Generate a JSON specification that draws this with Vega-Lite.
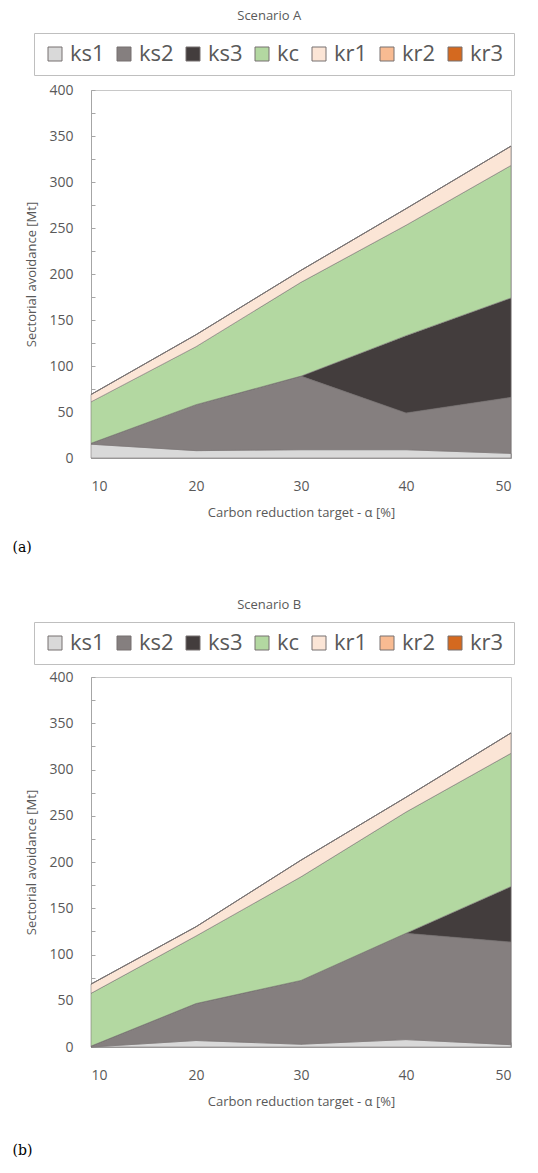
{
  "$schema": "https://vega.github.io/schema/vega-lite/v6.json",
  "background": "white",
  "padding": {"left": 12, "top": 9, "right": 5, "bottom": 5},
  "datasets": {
    "avoidance": [
      {"scenario": "A", "alpha": 10, "sector": "ks1", "value": 15},
      {"scenario": "A", "alpha": 10, "sector": "ks2", "value": 1},
      {"scenario": "A", "alpha": 10, "sector": "ks3", "value": 0},
      {"scenario": "A", "alpha": 10, "sector": "kc", "value": 45},
      {"scenario": "A", "alpha": 10, "sector": "kr1", "value": 8},
      {"scenario": "A", "alpha": 10, "sector": "kr2", "value": 0},
      {"scenario": "A", "alpha": 10, "sector": "kr3", "value": 0},
      {"scenario": "A", "alpha": 20, "sector": "ks1", "value": 8},
      {"scenario": "A", "alpha": 20, "sector": "ks2", "value": 50},
      {"scenario": "A", "alpha": 20, "sector": "ks3", "value": 0},
      {"scenario": "A", "alpha": 20, "sector": "kc", "value": 63},
      {"scenario": "A", "alpha": 20, "sector": "kr1", "value": 13},
      {"scenario": "A", "alpha": 20, "sector": "kr2", "value": 0},
      {"scenario": "A", "alpha": 20, "sector": "kr3", "value": 0},
      {"scenario": "A", "alpha": 30, "sector": "ks1", "value": 9},
      {"scenario": "A", "alpha": 30, "sector": "ks2", "value": 80},
      {"scenario": "A", "alpha": 30, "sector": "ks3", "value": 0},
      {"scenario": "A", "alpha": 30, "sector": "kc", "value": 102},
      {"scenario": "A", "alpha": 30, "sector": "kr1", "value": 13},
      {"scenario": "A", "alpha": 30, "sector": "kr2", "value": 0},
      {"scenario": "A", "alpha": 30, "sector": "kr3", "value": 0},
      {"scenario": "A", "alpha": 40, "sector": "ks1", "value": 9},
      {"scenario": "A", "alpha": 40, "sector": "ks2", "value": 40},
      {"scenario": "A", "alpha": 40, "sector": "ks3", "value": 84},
      {"scenario": "A", "alpha": 40, "sector": "kc", "value": 120},
      {"scenario": "A", "alpha": 40, "sector": "kr1", "value": 18},
      {"scenario": "A", "alpha": 40, "sector": "kr2", "value": 0},
      {"scenario": "A", "alpha": 40, "sector": "kr3", "value": 0},
      {"scenario": "A", "alpha": 50, "sector": "ks1", "value": 5},
      {"scenario": "A", "alpha": 50, "sector": "ks2", "value": 61},
      {"scenario": "A", "alpha": 50, "sector": "ks3", "value": 108},
      {"scenario": "A", "alpha": 50, "sector": "kc", "value": 144},
      {"scenario": "A", "alpha": 50, "sector": "kr1", "value": 21},
      {"scenario": "A", "alpha": 50, "sector": "kr2", "value": 0},
      {"scenario": "A", "alpha": 50, "sector": "kr3", "value": 0},
      {"scenario": "B", "alpha": 10, "sector": "ks1", "value": 0},
      {"scenario": "B", "alpha": 10, "sector": "ks2", "value": 1},
      {"scenario": "B", "alpha": 10, "sector": "ks3", "value": 0},
      {"scenario": "B", "alpha": 10, "sector": "kc", "value": 57},
      {"scenario": "B", "alpha": 10, "sector": "kr1", "value": 10},
      {"scenario": "B", "alpha": 10, "sector": "kr2", "value": 0},
      {"scenario": "B", "alpha": 10, "sector": "kr3", "value": 0},
      {"scenario": "B", "alpha": 20, "sector": "ks1", "value": 7},
      {"scenario": "B", "alpha": 20, "sector": "ks2", "value": 40},
      {"scenario": "B", "alpha": 20, "sector": "ks3", "value": 0},
      {"scenario": "B", "alpha": 20, "sector": "kc", "value": 73},
      {"scenario": "B", "alpha": 20, "sector": "kr1", "value": 10},
      {"scenario": "B", "alpha": 20, "sector": "kr2", "value": 0},
      {"scenario": "B", "alpha": 20, "sector": "kr3", "value": 0},
      {"scenario": "B", "alpha": 30, "sector": "ks1", "value": 3},
      {"scenario": "B", "alpha": 30, "sector": "ks2", "value": 69},
      {"scenario": "B", "alpha": 30, "sector": "ks3", "value": 0},
      {"scenario": "B", "alpha": 30, "sector": "kc", "value": 112},
      {"scenario": "B", "alpha": 30, "sector": "kr1", "value": 18},
      {"scenario": "B", "alpha": 30, "sector": "kr2", "value": 0},
      {"scenario": "B", "alpha": 30, "sector": "kr3", "value": 0},
      {"scenario": "B", "alpha": 40, "sector": "ks1", "value": 8},
      {"scenario": "B", "alpha": 40, "sector": "ks2", "value": 115},
      {"scenario": "B", "alpha": 40, "sector": "ks3", "value": 0},
      {"scenario": "B", "alpha": 40, "sector": "kc", "value": 131},
      {"scenario": "B", "alpha": 40, "sector": "kr1", "value": 16},
      {"scenario": "B", "alpha": 40, "sector": "kr2", "value": 0},
      {"scenario": "B", "alpha": 40, "sector": "kr3", "value": 0},
      {"scenario": "B", "alpha": 50, "sector": "ks1", "value": 2.5},
      {"scenario": "B", "alpha": 50, "sector": "ks2", "value": 111},
      {"scenario": "B", "alpha": 50, "sector": "ks3", "value": 60},
      {"scenario": "B", "alpha": 50, "sector": "kc", "value": 144},
      {"scenario": "B", "alpha": 50, "sector": "kr1", "value": 22},
      {"scenario": "B", "alpha": 50, "sector": "kr2", "value": 0},
      {"scenario": "B", "alpha": 50, "sector": "kr3", "value": 0}
    ]
  },
  "data": {"name": "avoidance"},
  "spacing": 43,
  "vconcat": [
    {
      "title": {"text": "(a)", "orient": "bottom", "anchor": "start", "frame": "bounds", "font": "DejaVu Serif", "fontSize": 14, "fontWeight": "normal", "color": "#000000", "offset": 21, "dx": -13},
      "vconcat": [
        {
          "title": {"text": "Scenario A", "anchor": "middle", "frame": "bounds", "offset": 60},
          "width": 420,
          "height": 368,
          "transform": [
            {"filter": "datum.scenario == 'A'"},
            {"calculate": "indexof(['ks1','ks2','ks3','kc','kr1','kr2','kr3'], datum.sector)", "as": "stackOrder"}
          ],
          "mark": {"type": "area", "opacity": 1, "stroke": "#767171", "strokeWidth": 0.7, "strokeOpacity": 0.8},
          "encoding": {
            "x": {"field": "alpha", "type": "quantitative", "scale": {"domain": [10, 50], "nice": false},
                  "axis": {"values": [10, 20, 30, 40, 50], "title": "Carbon reduction target - α [%]", "tickSize": -5, "labelPadding": 26, "titlePadding": 13}},
            "y": {"field": "value", "type": "quantitative", "stack": "zero", "scale": {"domain": [0, 400], "nice": false},
                  "axis": {"values": [0, 25, 50, 75, 100, 125, 150, 175, 200, 225, 250, 275, 300, 325, 350, 375, 400], "labelExpr": "datum.value % 50 == 0 ? datum.label : ''", "title": "Sectorial avoidance [Mt]", "tickSize": -4, "labelPadding": 22, "titlePadding": 10}},
            "color": {"field": "sector", "type": "nominal",
                      "scale": {"domain": ["ks1", "ks2", "ks3", "kc", "kr1", "kr2", "kr3"], "range": ["#d9d9d9", "#857f7f", "#433d3d", "#b3d8a1", "#fbe5d6", "#f8bb92", "#d4691f"]},
                      "legend": {"orient": "none", "legendX": -57, "legendY": -57}},
            "order": {"field": "stackOrder", "type": "quantitative"}
          }
        }
      ]
    },
    {
      "title": {"text": "(b)", "orient": "bottom", "anchor": "start", "frame": "bounds", "font": "DejaVu Serif", "fontSize": 14, "fontWeight": "normal", "color": "#000000", "offset": 35, "dx": -13},
      "vconcat": [
        {
          "title": {"text": "Scenario B", "anchor": "middle", "frame": "bounds", "offset": 58},
          "width": 420,
          "height": 370,
          "transform": [
            {"filter": "datum.scenario == 'B'"},
            {"calculate": "indexof(['ks1','ks2','ks3','kc','kr1','kr2','kr3'], datum.sector)", "as": "stackOrder"}
          ],
          "mark": {"type": "area", "opacity": 1, "stroke": "#767171", "strokeWidth": 0.7, "strokeOpacity": 0.8},
          "encoding": {
            "x": {"field": "alpha", "type": "quantitative", "scale": {"domain": [10, 50], "nice": false},
                  "axis": {"values": [10, 20, 30, 40, 50], "title": "Carbon reduction target - α [%]", "tickSize": -5, "labelPadding": 26, "titlePadding": 13}},
            "y": {"field": "value", "type": "quantitative", "stack": "zero", "scale": {"domain": [0, 400], "nice": false},
                  "axis": {"values": [0, 25, 50, 75, 100, 125, 150, 175, 200, 225, 250, 275, 300, 325, 350, 375, 400], "labelExpr": "datum.value % 50 == 0 ? datum.label : ''", "title": "Sectorial avoidance [Mt]", "tickSize": -4, "labelPadding": 22, "titlePadding": 10}},
            "color": {"field": "sector", "type": "nominal",
                      "scale": {"domain": ["ks1", "ks2", "ks3", "kc", "kr1", "kr2", "kr3"], "range": ["#d9d9d9", "#857f7f", "#433d3d", "#b3d8a1", "#fbe5d6", "#f8bb92", "#d4691f"]},
                      "legend": {"orient": "none", "legendX": -57, "legendY": -55}},
            "order": {"field": "stackOrder", "type": "quantitative"}
          }
        }
      ]
    }
  ],
  "resolve": {"scale": {"color": "independent"}, "legend": {"color": "independent"}},
  "config": {
    "font": "Open Sans",
    "view": {"stroke": "#c8c8c8", "strokeWidth": 1},
    "title": {"font": "Open Sans", "fontSize": 13, "fontWeight": "normal", "color": "#595959"},
    "axis": {"labelFont": "Open Sans", "titleFont": "Open Sans", "labelFontSize": 14, "titleFontSize": 13, "titleFontWeight": "normal", "labelColor": "#595959", "titleColor": "#595959", "domainColor": "#a6a6a6", "tickColor": "#a6a6a6", "grid": false},
    "legend": {"direction": "horizontal", "columns": 7, "title": null, "symbolType": "square", "symbolSize": 196, "symbolStrokeWidth": 1, "labelFont": "Open Sans", "labelFontSize": 22, "labelColor": "#595959", "labelOffset": 4, "columnPadding": 8, "padding": 10, "strokeColor": "#bfbfbf"}
  }
}
